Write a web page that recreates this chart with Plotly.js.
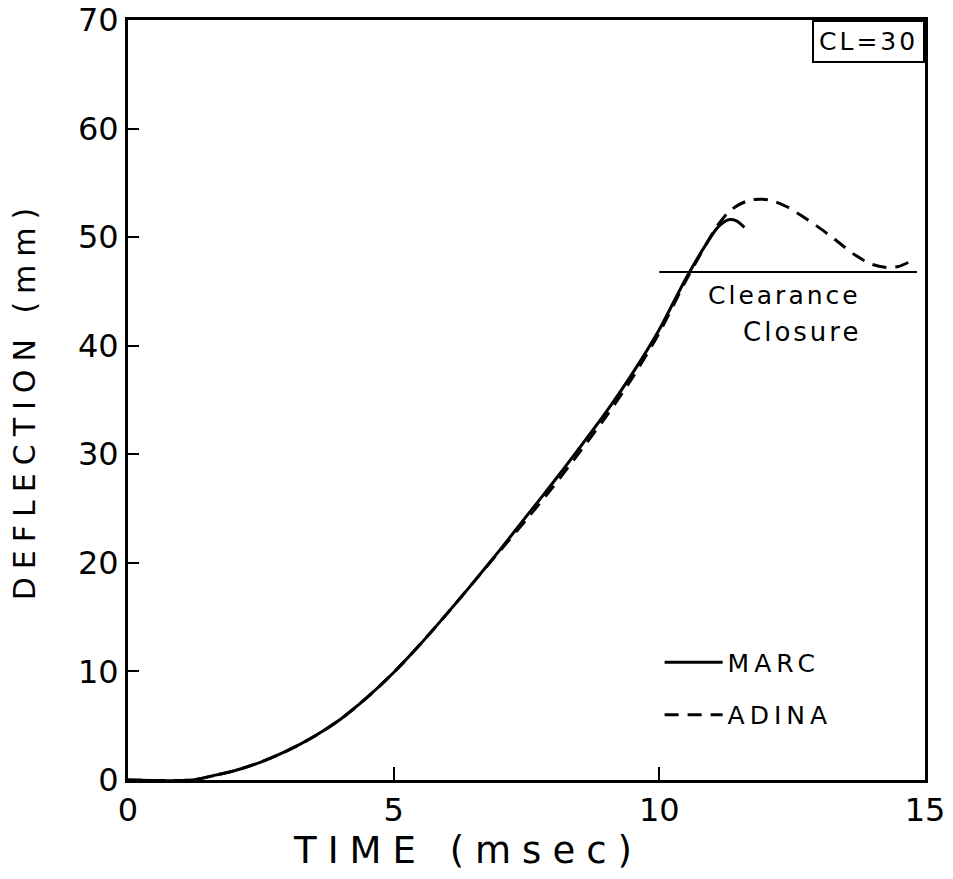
<!DOCTYPE html>
<html>
<head>
<meta charset="utf-8">
<script src="https://cdn.plot.ly/plotly-3.0.1.min.js"></script>
<style>
  html, body { margin: 0; padding: 0; background: #fff; }
  #chart { width: 953px; height: 879px; }
  .xtitle { letter-spacing: 11px; transform: translateX(-58px); }
  .ytitle { letter-spacing: 8px; }
  .annotation-text { letter-spacing: 3px; }
  .legendtext { letter-spacing: 5px; }
</style>
</head>
<body>
<div id="chart"></div>
<script>
// ---- data ----
const marcTime = [0, 1.2, 1.6, 2.0, 2.5, 3.0, 3.5, 4.0, 4.5, 5.0, 5.5, 6.0, 6.5, 7.0, 7.5, 8.0, 8.5, 9.0, 9.5, 10.0, 10.5, 10.9, 11.1, 11.3, 11.45, 11.6];
const marcDefl = [0, 0, 0.4, 0.85, 1.65, 2.7, 4.0, 5.6, 7.6, 9.9, 12.5, 15.3, 18.2, 21.2, 24.3, 27.4, 30.6, 33.9, 37.5, 41.5, 46.2, 49.5, 50.9, 51.6, 51.5, 50.9];

const adinaTime = [0, 1.2, 1.6, 2.0, 2.5, 3.0, 3.5, 4.0, 4.5, 5.0, 5.5, 6.0, 6.5, 7.0, 7.5, 8.0, 8.5, 9.0, 9.5, 10.0, 10.5, 10.9, 11.1, 11.3, 11.5, 11.7, 11.9, 12.1, 12.4, 12.7, 13.0, 13.3, 13.7, 14.0, 14.3, 14.5, 14.7];
const adinaDefl = [0, 0, 0.4, 0.85, 1.65, 2.7, 4.0, 5.6, 7.6, 9.9, 12.5, 15.3, 18.2, 21.1, 24.0, 27.0, 30.2, 33.5, 37.1, 41.2, 46.0, 49.5, 51.1, 52.3, 53.0, 53.4, 53.5, 53.4, 52.8, 51.9, 50.9, 49.8, 48.3, 47.5, 47.2, 47.3, 47.7];

const clearanceTime = [10.0, 14.85];
const clearanceDefl = [46.8, 46.8];

const xTickVals = [0, 5, 10, 15];
const xTickText = ["0", "5", "10", "15"];
const yTickVals = [0, 10, 20, 30, 40, 50, 60, 70];
const yTickText = ["0", "10", "20", "30", "40", "50", "60", "70"];

const FONT = "DejaVu Sans, Liberation Sans, sans-serif";

const traces = [
  {
    x: adinaTime, y: adinaDefl, mode: "lines", name: "ADINA",
    line: { color: "#000", width: 3, dash: "14px,9px", shape: "spline", smoothing: 0.8 },
    legendgroup: "b", legendrank: 2
  },
  {
    x: marcTime, y: marcDefl, mode: "lines", name: "MARC",
    line: { color: "#000", width: 3, shape: "spline", smoothing: 0.8 },
    legendgroup: "a", legendrank: 1
  },
  {
    x: clearanceTime, y: clearanceDefl, mode: "lines", name: "Clearance Closure",
    line: { color: "#000", width: 2 }, showlegend: false, hoverinfo: "skip"
  }
];

const layout = {
  width: 953, height: 879,
  margin: { l: 128, r: 28, t: 20, b: 99 },
  paper_bgcolor: "#fff", plot_bgcolor: "#fff",
  font: { family: FONT, color: "#000", size: 30 },
  xaxis: {
    range: [0, 15], tickvals: xTickVals, ticktext: xTickText,
    ticks: "inside", ticklen: 13, tickwidth: 2, tickcolor: "#000",
    showline: true, linewidth: 3, linecolor: "#000", mirror: true,
    showgrid: false, zeroline: false,
    tickfont: { family: FONT, size: 32 },
    title: { text: "TIME (msec)", font: { family: FONT, size: 37 }, standoff: 0 },
    automargin: false
  },
  yaxis: {
    range: [0, 70], tickvals: yTickVals, ticktext: yTickText,
    ticks: "inside", ticklen: 11, tickwidth: 2, tickcolor: "#000",
    showline: true, linewidth: 3, linecolor: "#000", mirror: true,
    showgrid: false, zeroline: false,
    tickfont: { family: FONT, size: 32 },
    title: { text: "DEFLECTION (mm)", font: { family: FONT, size: 30 }, standoff: 34 },
    automargin: false
  },
  showlegend: true,
  legend: {
    x: 0.667, y: 0.185, xanchor: "left", yanchor: "top",
    bgcolor: "rgba(0,0,0,0)", borderwidth: 0,
    font: { family: FONT, size: 25 },
    traceorder: "grouped", tracegroupgap: 17, itemwidth: 58
  },
  annotations: [
    { x: 12.35, y: 44.6, xref: "x", yref: "y", text: "Clearance", showarrow: false,
      font: { family: FONT, size: 25 }, xanchor: "center", yanchor: "middle" },
    { x: 12.69, y: 41.3, xref: "x", yref: "y", text: "Closure", showarrow: false,
      font: { family: FONT, size: 26 }, xanchor: "center", yanchor: "middle" },
    { x: 1, y: 1, xref: "paper", yref: "paper", text: "CL=30", showarrow: false,
      font: { family: FONT, size: 25 }, xanchor: "right", yanchor: "top",
      bordercolor: "#000", borderwidth: 2, borderpad: 5, bgcolor: "#fff" }
  ]
};

Plotly.newPlot("chart", traces, layout, { displayModeBar: false, staticPlot: true });
</script>
</body>
</html>
